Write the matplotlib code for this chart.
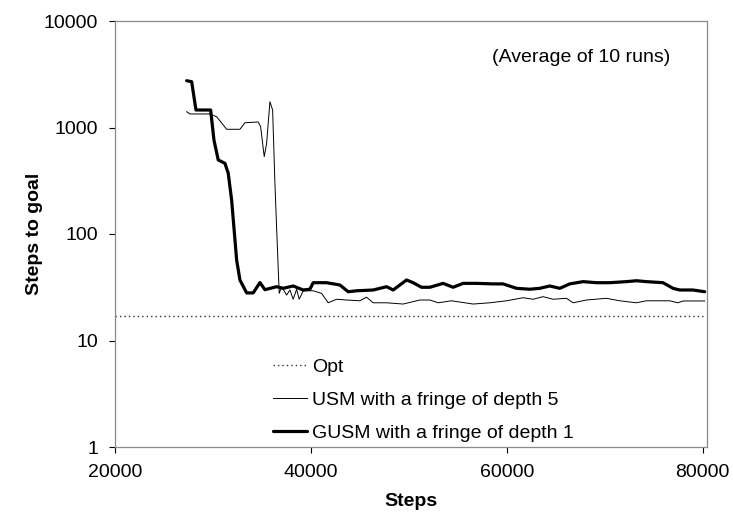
"""Steps-to-goal learning curves (log scale), USM vs GUSM against the optimum."""

import matplotlib

matplotlib.use("Agg")
import matplotlib.pyplot as plt
from matplotlib.ticker import NullLocator

# --- data ---------------------------------------------------------------------

opt_steps = [20000, 80000]
opt_goal = [17.0, 17.0]

usm_steps = [
    27316, 27653, 29694, 30378, 31398, 32755, 33265, 34622, 34867, 35235,
    35480, 35816, 36092, 36327, 36561, 36765, 37010, 37520, 37857, 38194,
    38541, 38806, 39214, 40235, 41092, 41765, 42622, 43643, 45000, 45684,
    46357, 47724, 49418, 51122, 52143, 52990, 54357, 56561, 58265, 59969,
    61663, 62684, 63704, 64725, 66092, 66766, 68133, 70174, 71531, 73235,
    74255, 76633, 77480, 77990, 80204,
]
usm_goal = [
    1407, 1340, 1340, 1262, 962, 962, 1109, 1127, 1018, 532,
    711, 1746, 1460, 299, 82, 27.7, 32, 26.7, 29.8, 24.4,
    30.3, 24.4, 29.3, 29.3, 27.7, 22.6, 24.4, 24.0, 23.6, 25.5,
    22.6, 22.6, 22.0, 24.0, 24.0, 22.6, 23.6, 22.0, 22.6, 23.6,
    25.2, 24.4, 25.8, 24.4, 24.9, 22.6, 24.0, 24.9, 23.6, 22.6,
    23.6, 23.6, 22.6, 23.5, 23.5,
]

gusm_steps = [
    27316, 27827, 28265, 29765, 30102, 30541, 31224, 31561, 31908, 32418,
    32755, 33439, 34112, 34796, 35306, 36500, 37173, 38194, 39214, 39898,
    40235, 41602, 42959, 43806, 44663, 46357, 47724, 48398, 49765, 50439,
    51296, 52143, 53500, 54520, 55541, 56908, 58602, 59622, 60990, 62347,
    63367, 64388, 65408, 66429, 67786, 69153, 70510, 72214, 73235, 74255,
    75949, 76970, 77653, 79010, 80204,
]
gusm_goal = [
    2750, 2692, 1460, 1460, 763, 495, 461, 372, 208, 57,
    37, 28, 28, 35, 30, 32, 30.9, 32.5, 29.8, 30.3,
    34.9, 34.9, 33.2, 28.7, 29.3, 29.8, 32, 29.8, 37, 34.9,
    31.6, 31.6, 34.4, 31.6, 34.4, 34.4, 34, 34, 30.9, 30.3,
    30.9, 32.5, 30.9, 34, 35.7, 34.9, 34.9, 35.7, 36.4, 35.7,
    34.9, 30.9, 29.8, 29.8, 28.7,
]

y_ticks = [1, 10, 100, 1000, 10000]
y_tick_labels = ["1", "10", "100", "1000", "10000"]
x_ticks = [20000, 40000, 60000, 80000]
x_tick_labels = ["20000", "40000", "60000", "80000"]

# --- styling -------------------------------------------------------------------

plt.rcParams["font.family"] = ["Liberation Sans", "DejaVu Sans"]
_FONT = 14
_SPINE = "#8a8a8a"

fig = plt.figure(figsize=(7.33, 5.22), dpi=100)
ax = fig.add_axes([115 / 733, 1 - 447 / 522, (707 - 115) / 733, (447 - 21) / 522])

ax.plot(opt_steps, opt_goal, color="#333333", linestyle=(0, (1, 2.2)), linewidth=1.0, label="Opt")
ax.plot(usm_steps, usm_goal, color="black", linewidth=0.7, label="USM with a fringe of depth 5",
        solid_joinstyle="round")
ax.plot(gusm_steps, gusm_goal, color="black", linewidth=2.3, label="GUSM with a fringe of depth 1",
        solid_joinstyle="round", solid_capstyle="round")

ax.set_yscale("log")
ax.set_ylim(1, 10000)
ax.set_xlim(20000, 80440)
ax.set_yticks(y_ticks, y_tick_labels)
ax.set_xticks(x_ticks, x_tick_labels)
ax.yaxis.set_minor_locator(NullLocator())
ax.tick_params(direction="out", length=4, width=0.8, color="black", labelsize=_FONT, pad=8)

for spine in ax.spines.values():
    spine.set_color(_SPINE)
    spine.set_linewidth(0.9)

ax.set_xlabel("Steps", fontsize=_FONT, fontweight="bold", labelpad=9)
ax.set_ylabel("Steps to goal", fontsize=_FONT, fontweight="bold", labelpad=1)

ax.text(581 / 733, 1 - 58 / 522, "(Average of 10 runs)", transform=fig.transFigure,
        ha="center", va="center", fontsize=_FONT)

ax.legend(
    loc="upper left",
    bbox_to_anchor=(273 / 733, 1 - 358 / 522),
    bbox_transform=fig.transFigure,
    frameon=False,
    fontsize=_FONT,
    handlelength=1.75,
    handletextpad=0.25,
    labelspacing=0.8,
    borderpad=0,
    borderaxespad=0,
)

fig.savefig("out.png", dpi=100)
